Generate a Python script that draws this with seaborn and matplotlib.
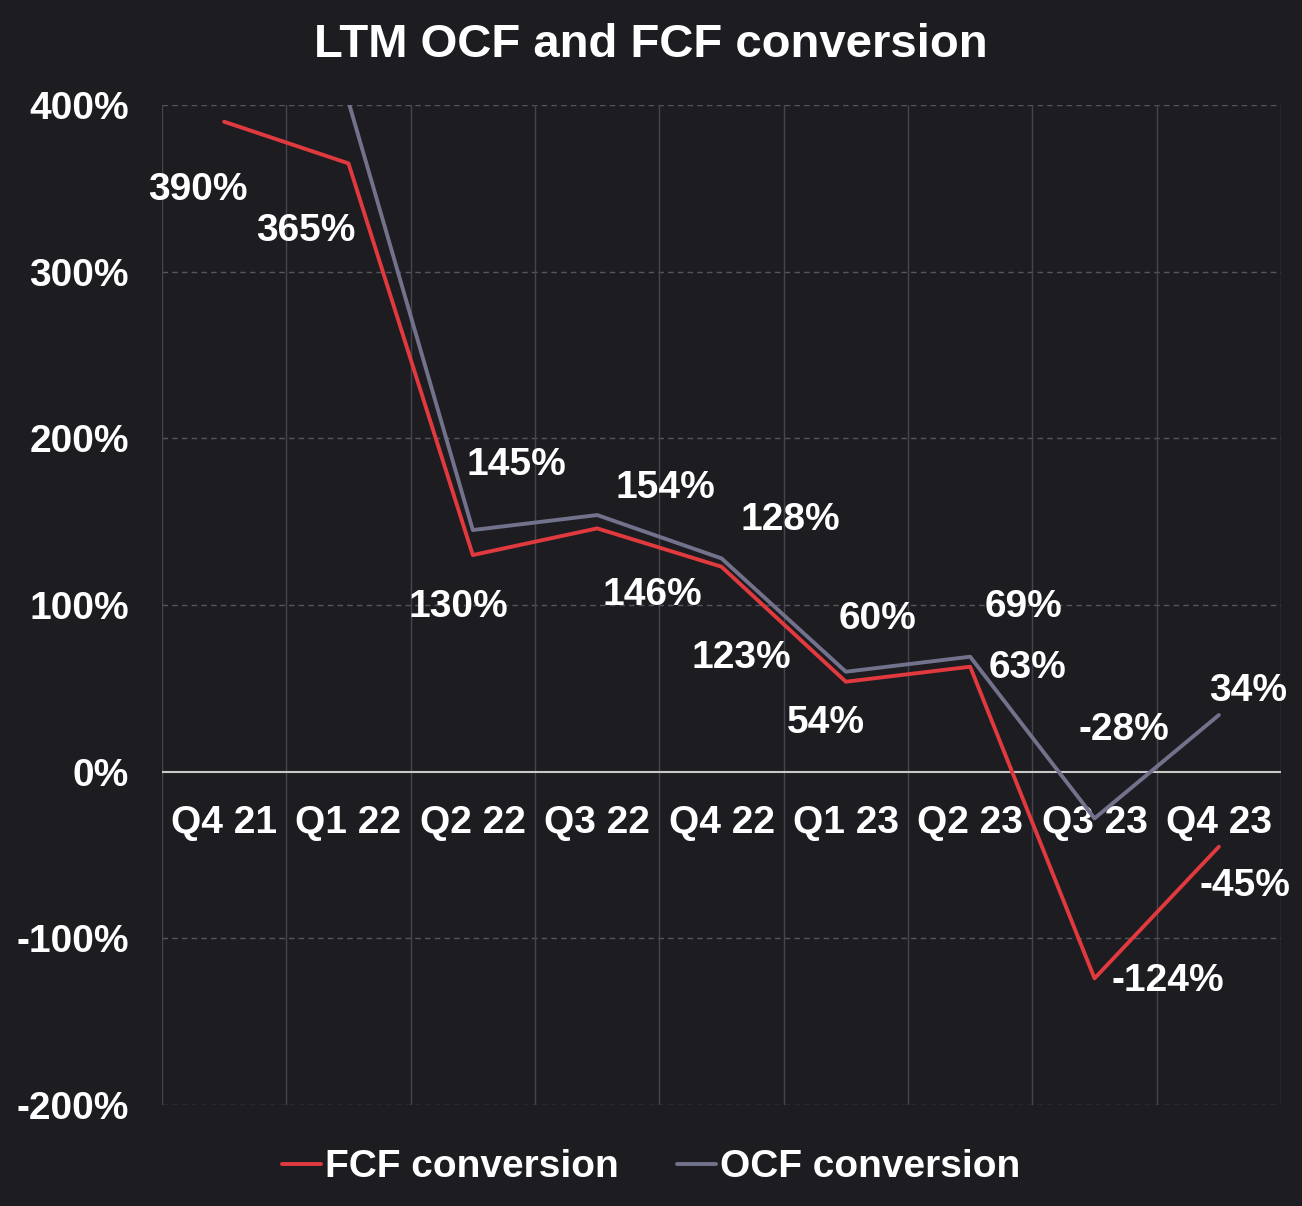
import matplotlib
matplotlib.use("Agg")
import matplotlib.pyplot as plt
import pandas as pd
import seaborn as sns
from matplotlib.ticker import FuncFormatter

# Data
quarters = ["Q4 21", "Q1 22", "Q2 22", "Q3 22", "Q4 22", "Q1 23", "Q2 23", "Q3 23", "Q4 23"]
fcf = [390, 365, 130, 146, 123, 54, 63, -124, -45]
ocf = [480, 402, 145, 154, 128, 60, 69, -28, 34]

# label offsets in pixels (dx, dy) relative to each point
fcf_off = [(-26, -68), (-43, -68), (-15, -52), (55, -67), (20, -91), (-20, -41), (57, -1), (73, -3), (26, -39)]
ocf_off = [(0, 0), (0, 0), (44, 65), (68, 27), (69, 38), (32, 53), (53, 50), (29, 88), (29, 24)]

bg = "#1c1c21"
red = "#e0393e"
grey = "#72728c"

df = pd.DataFrame({
    "quarter": quarters * 2,
    "value": fcf + ocf,
    "series": ["FCF conversion"] * len(quarters) + ["OCF conversion"] * len(quarters),
})

sns.set_theme(style="dark")
plt.rcParams["font.family"] = ["Liberation Sans", "DejaVu Sans"]
plt.rcParams["font.weight"] = "bold"

fig = plt.figure(figsize=(13.02, 12.06), dpi=100, facecolor=bg)
ax = fig.add_axes([0.1244, 0.0837, 0.8595, 0.8292])
ax.set_facecolor(bg)

sns.lineplot(data=df, x="quarter", y="value", hue="series",
             palette={"FCF conversion": red, "OCF conversion": grey},
             linewidth=2.8, ax=ax, legend=True, sort=False)

ax.set_ylim(-200, 400)
ax.set_xlim(-0.5, len(quarters) - 0.5)
ax.set_yticks(range(-200, 401, 100))
ax.yaxis.set_major_formatter(FuncFormatter(lambda v, p: f"{v:.0f}%"))
ax.set_xlabel("")
ax.set_ylabel("")

# horizontal dashed grid, vertical solid grid at category boundaries
for v in range(-200, 401, 100):
    if v == 0:
        ax.axhline(0, color="#c8c8c8", lw=1.5, zorder=1)
    else:
        ax.axhline(v, color="#55555f", lw=1, ls=(0, (4, 3)), zorder=0)
for b in range(len(quarters) + 1):
    ax.axvline(b - 0.5, color="#45454f", lw=1, zorder=0)
ax.grid(False)
for s in ax.spines.values():
    s.set_visible(False)

ax.tick_params(axis="y", colors="white", labelsize=28, length=0, pad=24)
ax.tick_params(axis="x", colors="white", labelsize=28, length=0, pad=24)
ax.spines["bottom"].set_position(("data", 0))
for t in ax.get_xticklabels() + ax.get_yticklabels():
    t.set_fontweight("bold")

# data labels
for i, (v, o) in enumerate(zip(fcf, fcf_off)):
    if -200 <= v <= 400:
        ax.annotate(f"{v}%", (i, v), xytext=o, textcoords="offset pixels",
                    ha="center", va="center", color="white", fontsize=28, fontweight="bold")
for i, (v, o) in enumerate(zip(ocf, ocf_off)):
    if -200 <= v <= 400:
        ax.annotate(f"{v}%", (i, v), xytext=o, textcoords="offset pixels",
                    ha="center", va="center", color="white", fontsize=28, fontweight="bold")

fig.suptitle("LTM OCF and FCF conversion", color="white", fontsize=34, fontweight="bold",
             y=0.963, va="center")

handles, labels = ax.get_legend_handles_labels()
ax.get_legend().remove()
leg = fig.legend(handles, labels, loc="center", bbox_to_anchor=(0.5, 0.032), ncol=2,
                 frameon=False, fontsize=28, handlelength=1.0, handletextpad=0.1,
                 columnspacing=1.5)
for t in leg.get_texts():
    t.set_color("white")
    t.set_fontweight("bold")

fig.savefig("out.png", dpi=100, facecolor=bg)
